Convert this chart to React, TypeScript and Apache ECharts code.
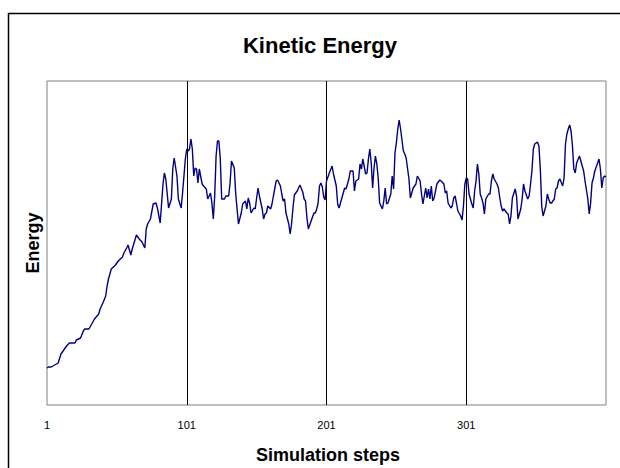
import React, { useEffect, useRef } from "react";
import * as echarts from "echarts";

// ---- data (step number, kinetic energy in arbitrary units) ----
const stepCount = 401;
const xTickLabels = ["1", "101", "201", "301"];

const steps = [
  1, 2, 4, 9, 11, 15, 17, 21, 22, 25, 27, 28, 31, 33, 35, 38, 39, 41, 43, 44, 45, 47, 50, 52, 55, 56, 58, 59,
  61, 62, 65, 67, 69, 71, 72, 73, 75, 77, 79, 80, 82, 84, 85, 86, 88, 90, 91, 92, 94, 95, 97, 98, 100,
  101, 102, 103, 104, 105, 106, 107, 108, 109, 110, 112, 113, 115, 116, 118, 119, 120, 121, 122, 123, 124, 125,
  126, 128, 129, 131, 132, 133, 135, 136, 137, 138, 140, 141, 143, 144, 145, 146, 147, 149, 150,
  151, 152, 153, 155, 156, 157, 158, 159, 161, 162, 163, 165, 166, 168, 169, 170, 171, 172, 174, 175,
  176, 177, 178, 180, 182, 184, 185, 186, 187, 188, 190, 192, 193, 194, 195, 196, 197, 198, 199, 200,
  201, 203, 205, 206, 208, 209, 210, 212, 213, 214, 215, 217, 218, 220, 221, 222, 224, 225,
  226, 227, 229, 230, 231, 232, 233, 234, 235, 236, 237, 238, 239, 241, 242, 243, 244, 245, 247, 248, 249, 250,
  251, 252, 253, 254, 256, 257, 258, 260, 261, 262, 263, 265, 266, 268, 269, 270, 272, 273, 274, 275,
  276, 277, 278, 280, 282, 283, 285, 286, 287, 288, 290, 291, 292, 293, 294, 295, 297, 298, 299, 300,
  301, 302, 303, 305, 306, 307, 308, 309, 310, 311, 312, 313, 314, 315, 317, 318, 319, 320, 321, 323, 324, 325,
  326, 327, 328, 330, 331, 332, 333, 334, 336, 337, 338, 340, 341, 342, 343, 345, 346, 347, 348, 349, 350,
  352, 353, 354, 355, 356, 358, 359, 360, 361, 362, 364, 365, 366, 367, 368, 370, 371, 372, 373, 374, 375,
  376, 377, 378, 379, 380, 382, 383, 384, 385, 386, 388, 389, 390, 391, 392, 393, 395, 396, 397, 398, 399, 400, 401,
];

const energy = [
  37, 38, 38, 42, 51, 59, 62, 62, 65, 67, 74, 76, 76, 81, 86, 91, 96, 102, 109, 119, 126, 136, 140, 144, 148, 152, 157, 160,
  150, 156, 170, 166, 163, 157, 176, 181, 186, 201, 202, 197, 182, 221, 232, 226, 197, 206, 236, 247, 229, 206, 197, 212, 246,
  256, 254, 256, 266, 256, 229, 237, 236, 222, 236, 221, 219, 216, 206, 212, 202, 186, 209, 249, 264, 264, 246,
  206, 206, 209, 209, 222, 244, 237, 212, 196, 181, 192, 201, 204, 196, 207, 202, 192, 197, 196,
  207, 217, 209, 196, 186, 191, 192, 199, 196, 201, 209, 224, 225, 219, 211, 204, 206, 192, 181, 171,
  181, 197, 210, 214, 220, 213, 206, 204, 187, 176, 184, 192, 192, 196, 202, 219, 222, 218, 208, 205,
  224, 232, 239, 231, 219, 201, 197, 207, 212, 217, 216, 226, 234, 234, 214, 224, 226, 241,
  236, 246, 231, 232, 246, 256, 242, 217, 237, 249, 241, 227, 202, 196, 204, 217, 201, 202, 211, 229, 216, 252,
  262, 276, 285, 276, 254, 251, 247, 226, 207, 212, 217, 221, 229, 224, 211, 201, 217, 207, 216, 206,
  219, 204, 207, 221, 225, 224, 221, 212, 214, 202, 197, 199, 207, 209, 202, 194, 189, 185, 199, 221,
  227, 226, 211, 201, 197, 214, 224, 241, 231, 211, 207, 202, 191, 206, 211, 211, 224, 231, 226, 221, 217, 207,
  199, 194, 196, 192, 191, 181, 189, 207, 216, 209, 186, 196, 206, 221, 214, 206, 209, 221, 234, 256, 261,
  263, 259, 236, 199, 189, 199, 211, 206, 202, 202, 206, 216, 217, 224, 226, 219, 227, 261, 271, 276, 280,
  274, 259, 236, 232, 242, 249, 244, 239, 234, 224, 206, 191, 202, 222, 227, 234, 242, 246, 236, 217, 227, 229, 228,
];

const energyMax = 324;

const categories: string[] = [];
for (let i = 1; i <= stepCount; i++) categories.push(String(i));

const seriesData: (number | null)[] = categories.map(() => null);
steps.forEach((s, i) => {
  seriesData[s - 1] = energy[i];
});

const FONT = "'Liberation Sans', Arial, Helvetica, sans-serif";

export default function App() {
  const ref = useRef<HTMLDivElement>(null);

  useEffect(() => {
    if (!ref.current) return;
    const chart = echarts.init(ref.current, undefined, { renderer: "svg" });
    chart.setOption({
      animation: false,
      backgroundColor: "#ffffff",
      grid: {
        left: 47,
        top: 81,
        width: 559,
        height: 324,
        show: true,
        borderColor: "#808080",
        borderWidth: 1,
        backgroundColor: "transparent",
        containLabel: false,
      },
      xAxis: {
        type: "category",
        data: categories,
        boundaryGap: false,
        axisLine: { show: false },
        axisTick: { show: false },
        axisLabel: {
          interval: (_i: number, v: string) => xTickLabels.includes(v),
          margin: 14,
          fontSize: 11,
          color: "#000",
          fontFamily: FONT,
        },
        splitLine: {
          show: true,
          interval: (i: number) => i > 0 && i < stepCount - 1 && i % 100 === 0,
          lineStyle: { color: "#000", width: 1 },
        },
      },
      yAxis: {
        type: "value",
        min: 0,
        max: energyMax,
        axisLine: { show: false },
        axisTick: { show: false },
        axisLabel: { show: false },
        splitLine: { show: false },
      },
      series: [
        {
          type: "line",
          data: seriesData,
          connectNulls: true,
          showSymbol: false,
          symbol: "none",
          lineStyle: { color: "#000080", width: 1.4 },
          silent: true,
        },
      ],
      graphic: [
        {
          type: "rect",
          shape: { x: 8.5, y: 13.5, width: 700, height: 600 },
          style: { fill: "none", stroke: "#000", lineWidth: 1.5 },
          silent: true,
        },
        {
          type: "text",
          x: 320,
          y: 45,
          style: {
            text: "Kinetic Energy",
            fontSize: 22,
            fontWeight: "bold",
            fontFamily: FONT,
            fill: "#000",
            align: "center",
            verticalAlign: "middle",
          },
        },
        {
          type: "text",
          x: 328,
          y: 455,
          style: {
            text: "Simulation steps",
            fontSize: 18,
            fontWeight: "bold",
            fontFamily: FONT,
            fill: "#000",
            align: "center",
            verticalAlign: "middle",
          },
        },
        {
          type: "text",
          x: 33,
          y: 243,
          rotation: Math.PI / 2,
          style: {
            text: "Energy",
            fontSize: 18,
            fontWeight: "bold",
            fontFamily: FONT,
            fill: "#000",
            align: "center",
            verticalAlign: "middle",
          },
        },
      ],
    });
    return () => chart.dispose();
  }, []);

  return (
    <div
      ref={ref}
      style={{ position: "fixed", left: 0, top: 0, width: 620, height: 468, background: "#fff" }}
    />
  );
}
